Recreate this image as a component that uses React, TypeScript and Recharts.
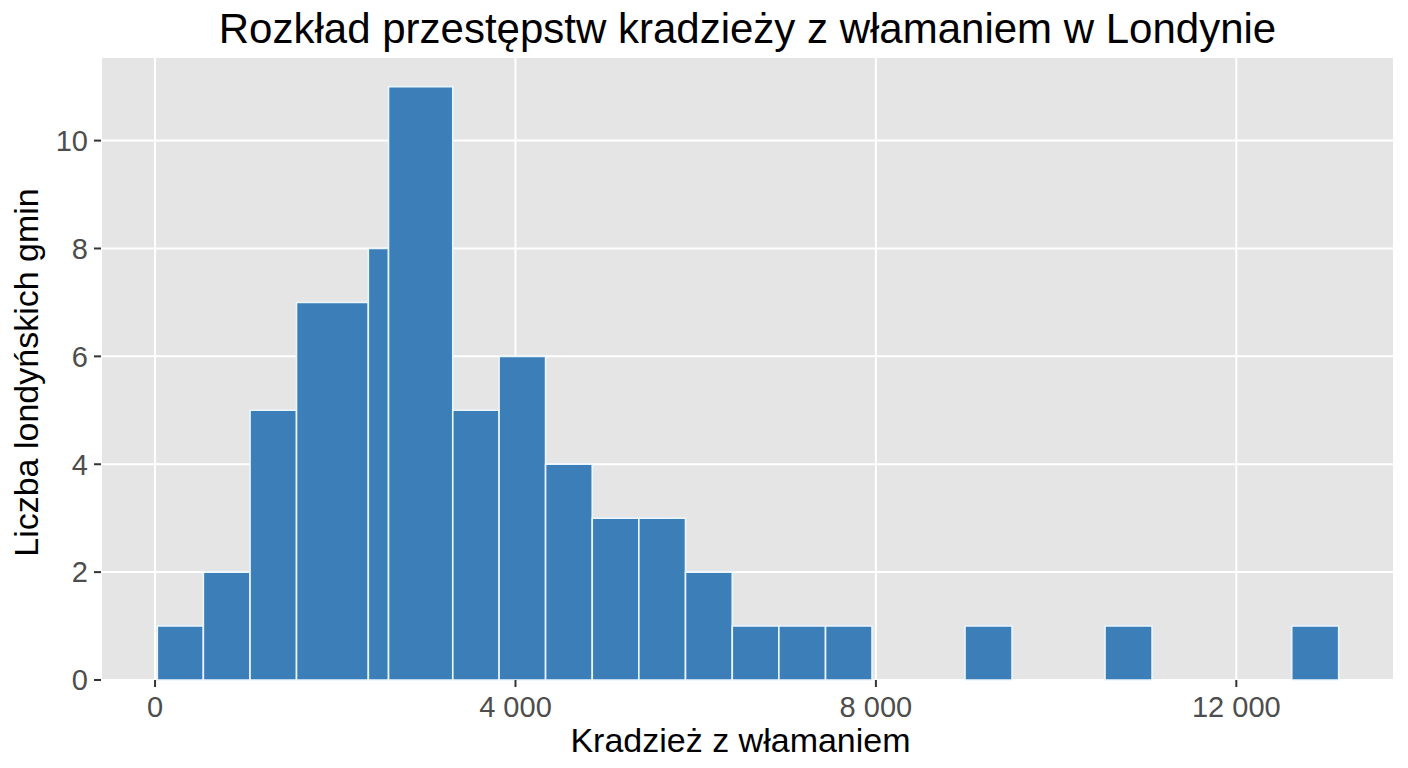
import React from 'react';
import { ComposedChart, XAxis, YAxis, CartesianGrid, ReferenceArea, Label } from 'recharts';

// Histogram bins (x in number of burglaries)
const binStart = [25, 536, 1054, 1570, 2367, 2591, 3304, 3818, 4334, 4852, 5369, 5887, 6406, 6923, 7441, 8989, 10543, 12615];
const binEnd = [536, 1054, 1570, 2367, 2591, 3304, 3818, 4334, 4852, 5369, 5887, 6406, 6923, 7441, 7957, 9511, 11065, 13136];
const counts = [1, 2, 5, 7, 8, 11, 5, 6, 4, 3, 3, 2, 1, 1, 1, 1, 1, 1];

const xTicks = [0, 4000, 8000, 12000];
const xMinorTicks = [2000, 6000, 10000];
const yTicks = [0, 2, 4, 6, 8, 10];
const xDomain: [number, number] = [-600, 13750];
const yDomain: [number, number] = [0, 11.55];

const TITLE = 'Rozkład przestępstw kradzieży z włamaniem w Londynie';
const X_TITLE = 'Kradzież z włamaniem';
const Y_TITLE = 'Liczba londyńskich gmin';

const FONT = '"Liberation Sans", Arial, Helvetica, sans-serif';
const BAR_FILL = '#3c7fb8';
const BAR_STROKE = '#eaf6ff';
const PANEL = '#e5e5e5';

const bins = counts.map((c, i) => ({ x0: binStart[i], x1: binEnd[i], count: c }));

const fmt = (v: number) => String(v).replace(/\B(?=(\d{3})+(?!\d))/g, ' ');

const XTitle = (props: any) => {
  const vb = props.viewBox || { x: 101, y: 680, width: 1293, height: 88 };
  return (
    <text
      x={vb.x + vb.width / 2 - 7}
      y={vb.y + 72}
      textAnchor="middle"
      fill="#000"
      fontSize={34}
      fontFamily={FONT}
    >
      {X_TITLE}
    </text>
  );
};

const YTitle = (props: any) => {
  const vb = props.viewBox || { x: 0, y: 57, width: 101, height: 623 };
  const cx = vb.x + 38;
  const cy = vb.y + vb.height / 2 + 4;
  return (
    <text
      x={cx}
      y={cy}
      textAnchor="middle"
      transform={`rotate(-90, ${cx}, ${cy})`}
      fill="#000"
      fontSize={34}
      fontFamily={FONT}
    >
      {Y_TITLE}
    </text>
  );
};

export default function App() {
  return (
    <div style={{ position: 'absolute', left: 0, top: 0, width: 1408, height: 768, background: '#fff', fontFamily: FONT }}>
      <div
        style={{
          position: 'absolute',
          left: 101,
          top: 8,
          width: 1293,
          textAlign: 'center',
          fontSize: 42,
          lineHeight: '42px',
          color: '#000',
          whiteSpace: 'nowrap',
          fontFamily: FONT,
        }}
      >
        {TITLE}
      </div>
      <ComposedChart
        width={1408}
        height={768}
        data={bins}
        margin={{ top: 57, right: 14, left: 0, bottom: 0 }}
      >
        <CartesianGrid fill={PANEL} fillOpacity={1} stroke="#ffffff" strokeWidth={2} />
        <CartesianGrid xAxisId="minor" horizontal={false} stroke="#ffffff" strokeWidth={1.2} />
        <XAxis
          xAxisId="minor"
          type="number"
          domain={xDomain}
          ticks={xMinorTicks}
          allowDataOverflow
          hide
        />
        <XAxis
          type="number"
          dataKey="x0"
          domain={xDomain}
          ticks={xTicks}
          allowDataOverflow
          height={88}
          axisLine={false}
          tickSize={7}
          tickMargin={9}
          tickLine={{ stroke: '#333333', strokeWidth: 2 }}
          tick={{ fill: '#4d4d4d', fontSize: 29, fontFamily: FONT }}
          tickFormatter={fmt}
        >
          <Label content={XTitle} />
        </XAxis>
        <YAxis
          type="number"
          domain={yDomain}
          ticks={yTicks}
          allowDataOverflow
          width={101}
          axisLine={false}
          tickSize={7}
          tickMargin={6}
          tickLine={{ stroke: '#333333', strokeWidth: 2 }}
          tick={{ fill: '#4d4d4d', fontSize: 29, fontFamily: FONT }}
        >
          <Label content={YTitle} />
        </YAxis>
        {bins.map((b, i) => (
          <ReferenceArea
            key={i}
            x1={b.x0}
            x2={b.x1}
            y1={0}
            y2={b.count}
            fill={BAR_FILL}
            fillOpacity={1}
            stroke={BAR_STROKE}
            strokeWidth={1.6}
            ifOverflow="visible"
          />
        ))}
      </ComposedChart>
    </div>
  );
}
